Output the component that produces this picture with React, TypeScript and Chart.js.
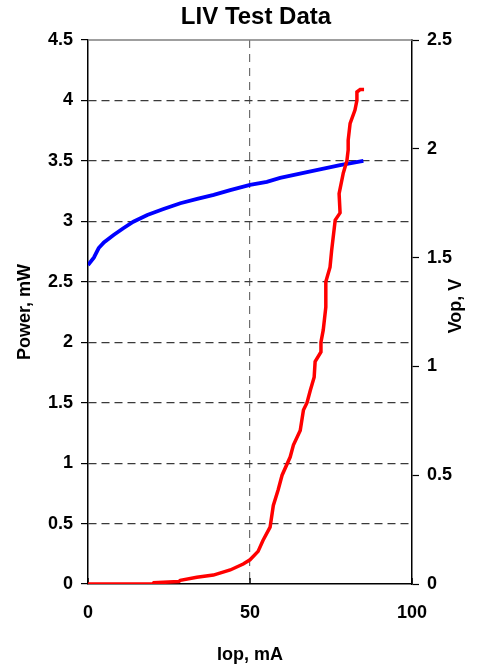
import React, { useEffect, useRef } from "react";
import { Chart, registerables } from "chart.js";

Chart.register(...registerables);

const TITLE = "LIV Test Data";
const X_TITLE = "Iop, mA";
const LEFT_TITLE = "Power, mW";
const RIGHT_TITLE = "Vop, V";

// Power (red) vs current
const powerCurrent = [
  0, 20, 20.3, 28, 28.5, 33.6, 38.7, 43.9, 47.9, 50, 52.5, 54, 56.2, 57.2, 58.7, 59.9,
  62.4, 63.4, 65.5, 66.5, 67.6, 68.6, 69.8, 70.1, 71.9, 71.9, 72.6, 73.4, 73.4, 74.7,
  75.2, 76.3, 77.8, 77.5, 78.8, 79.9, 80.3, 80.3, 80.9, 82.4, 83, 83, 84, 85.2,
];
const powerValues = [
  0, 0, 0.01, 0.02, 0.03, 0.055, 0.074, 0.116, 0.165, 0.2, 0.27, 0.36, 0.47, 0.65, 0.78, 0.9,
  1.05, 1.15, 1.27, 1.44, 1.5, 1.6, 1.71, 1.84, 1.92, 2.0, 2.1, 2.29, 2.5, 2.62,
  2.76, 3.01, 3.07, 3.23, 3.4, 3.5, 3.59, 3.67, 3.81, 3.92, 4.0, 4.07, 4.09, 4.09,
];

// Voltage (blue) vs current
const voltageCurrent = [
  0, 1.8, 3.3, 4.9, 7.9, 10.9, 14, 18.3, 23.3, 28.5, 33.7, 38.8, 43.9, 50, 55.2, 59.3, 67.6, 77.8, 85,
];
const voltageValues = [
  1.466, 1.5, 1.544, 1.57, 1.604, 1.635, 1.665, 1.696, 1.723, 1.75, 1.77, 1.788, 1.81, 1.834,
  1.848, 1.866, 1.893, 1.925, 1.944,
];

const xTicks = [0, 50, 100];
const powerTicks = [0, 0.5, 1, 1.5, 2, 2.5, 3, 3.5, 4, 4.5];
const voltageTicks = [0, 0.5, 1, 1.5, 2, 2.5];

const FONT = "'Liberation Sans', Arial, sans-serif";

const decorPlugin = {
  id: "decor",
  beforeDatasetsDraw(chart: any) {
    const { ctx, chartArea } = chart;
    ctx.save();
    ctx.strokeStyle = "#7f7f7f";
    ctx.lineWidth = 1.5;
    ctx.beginPath();
    ctx.moveTo(chartArea.left, chartArea.top);
    ctx.lineTo(chartArea.right, chartArea.top);
    ctx.stroke();
    // inside tick marks on the x axis
    const xs = chart.scales.x;
    ctx.strokeStyle = "#000";
    ctx.lineWidth = 1.5;
    ctx.beginPath();
    xTicks.forEach((v) => {
      const px = xs.getPixelForValue(v);
      ctx.moveTo(px, chartArea.bottom);
      ctx.lineTo(px, chartArea.bottom - 6);
    });
    ctx.stroke();
    ctx.restore();
  },
  afterDraw(chart: any) {
    const { ctx, chartArea } = chart;
    ctx.save();
    ctx.fillStyle = "#000";
    ctx.textAlign = "center";
    ctx.textBaseline = "middle";
    ctx.font = `bold 24px ${FONT}`;
    ctx.fillText(TITLE, (chartArea.left + chartArea.right) / 2 + 6, 17);
    ctx.font = `bold 18px ${FONT}`;
    ctx.translate(456, (chartArea.top + chartArea.bottom) / 2 - 6);
    ctx.rotate(-Math.PI / 2);
    ctx.fillText(RIGHT_TITLE, 0, 0);
    ctx.restore();
  },
};

export default function App() {
  const ref = useRef<HTMLCanvasElement | null>(null);

  useEffect(() => {
    if (!ref.current) return;
    const powerData = powerCurrent.map((x, i) => ({ x, y: powerValues[i] }));
    const voltageData = voltageCurrent.map((x, i) => ({ x, y: voltageValues[i] }));
    const tickFont = { family: FONT, size: 18, weight: "bold" as const };

    const chart = new Chart(ref.current, {
      type: "line",
      data: {
        datasets: [
          {
            label: "Power",
            data: powerData,
            borderColor: "#ff0000",
            backgroundColor: "#ff0000",
            borderWidth: 3.5,
            pointRadius: 0,
            tension: 0,
            yAxisID: "y",
          },
          {
            label: "Vop",
            data: voltageData,
            borderColor: "#0000ff",
            backgroundColor: "#0000ff",
            borderWidth: 3.8,
            pointRadius: 0,
            tension: 0,
            yAxisID: "y2",
          },
        ],
      },
      options: {
        responsive: false,
        animation: false,
        layout: { padding: { top: 40, left: 0, right: 0, bottom: 0 } },
        plugins: {
          legend: { display: false },
          title: { display: false },
          tooltip: { enabled: false },
        },
        scales: {
          x: {
            type: "linear",
            min: 0,
            max: 100,
            afterBuildTicks: (s: any) => {
              s.ticks = xTicks.map((v) => ({ value: v }));
            },
            afterFit: (s: any) => {
              s.height = 83;
            },
            ticks: {
              font: tickFont,
              color: "#000",
              padding: 18,
              maxRotation: 0,
              callback: (v: any) => String(v),
            },
            grid: {
              drawTicks: false,
              color: (c: any) => (c.tick && c.tick.value === 50 ? "#6e6e6e" : "transparent"),
              lineWidth: 1.2,
            },
            border: { display: true, color: "#000", width: 1.5, dash: [8, 6] },
            title: {
              display: true,
              text: X_TITLE,
              font: tickFont,
              color: "#000",
              padding: { top: 0, bottom: 1 },
            },
          },
          y: {
            type: "linear",
            position: "left",
            min: 0,
            max: 4.5,
            afterBuildTicks: (s: any) => {
              s.ticks = powerTicks.map((v) => ({ value: v }));
            },
            afterFit: (s: any) => {
              s.width = 88;
            },
            ticks: {
              font: tickFont,
              color: "#000",
              padding: 8,
              callback: (v: any) => String(v),
            },
            grid: {
              drawTicks: true,
              tickLength: 7,
              tickColor: "#000",
              tickWidth: 1.2,
              tickBorderDash: [],
              color: (c: any) =>
                c.tick && (c.tick.value === 0 || c.tick.value === 4.5) ? "transparent" : "#3a3a3a",
              lineWidth: 1.2,
            },
            border: { display: true, color: "#000", width: 1.5, dash: [8, 5] },
            title: {
              display: true,
              text: LEFT_TITLE,
              font: tickFont,
              color: "#000",
              padding: { top: 14, bottom: 0 },
            },
          },
          y2: {
            type: "linear",
            position: "right",
            min: 0,
            max: 2.5,
            afterBuildTicks: (s: any) => {
              s.ticks = voltageTicks.map((v) => ({ value: v }));
            },
            afterFit: (s: any) => {
              s.width = 78;
            },
            ticks: {
              font: tickFont,
              color: "#000",
              padding: 8,
              callback: (v: any) => String(v),
            },
            grid: {
              drawOnChartArea: false,
              drawTicks: true,
              tickLength: 7,
              tickColor: "#000",
              tickWidth: 1.2,
            },
            border: { display: true, color: "#000", width: 1.5 },
          },
        },
      },
      plugins: [decorPlugin],
    });
    return () => chart.destroy();
  }, []);

  return (
    <div style={{ position: "absolute", left: 0, top: 0, width: 490, height: 667, background: "#fff" }}>
      <canvas ref={ref} width={490} height={667} style={{ display: "block", width: 490, height: 667 }} />
    </div>
  );
}
